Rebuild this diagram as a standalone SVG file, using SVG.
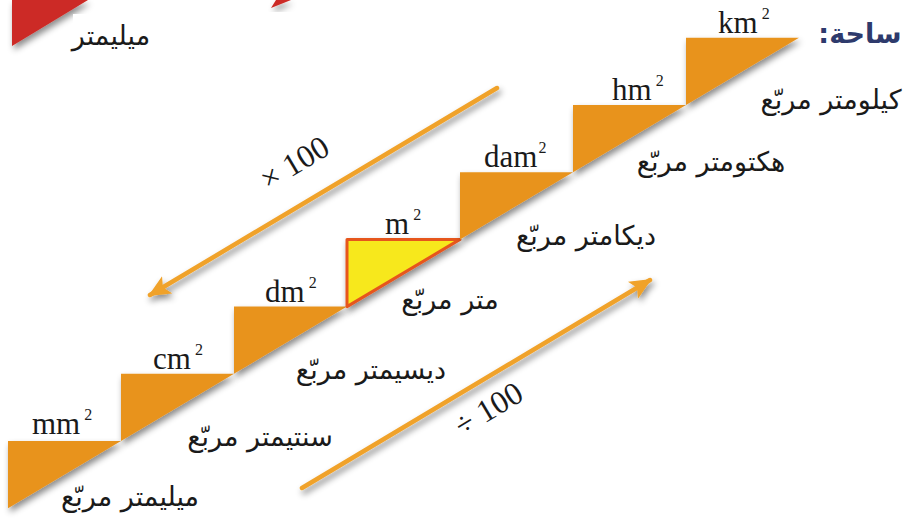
<svg xmlns="http://www.w3.org/2000/svg" width="903" height="519" viewBox="0 0 903 519">
<defs>
<filter id="sh" x="-20%" y="-20%" width="150%" height="160%">
<feDropShadow dx="2" dy="4" stdDeviation="3" flood-color="#000" flood-opacity="0.45"/>
</filter>
<marker id="ah" markerUnits="userSpaceOnUse" markerWidth="24" markerHeight="20" refX="20" refY="10" orient="auto">
<path d="M0,0 L22,10 L0,20 L5,10 Z" fill="#F0A22A"/>
</marker>
<style>
.step{fill:#E8931E;filter:url(#sh)}
.unit{font-family:"Liberation Serif",serif;font-size:31px;fill:#1a1a1a}
.sup{font-size:16px}
.ar{font-family:"DejaVu Sans",sans-serif;font-size:27px;fill:#1a1a1a;text-anchor:middle}
.arrow{stroke:#F0A22A;stroke-width:4.5;stroke-linecap:round;fill:none;filter:url(#sh)}
.op{font-family:"Liberation Serif",serif;font-size:32px;fill:#1a1a1a;text-anchor:middle}
</style>
</defs>
<rect width="903" height="519" fill="#fff"/>
<g id="corner">
<polygon points="12,0 12,46 88,0" fill="#CC2A25" filter="url(#sh)"/>
<polygon points="271,8 276,0 291,0" fill="#CC2A25" filter="url(#sh)"/>
<rect x="73" y="14" width="80" height="36" fill="#fff"/>
<text class="ar" x="111" y="45">ميليمتر</text>
</g>
<g id="title">
<text x="860" y="43" direction="rtl" font-family="DejaVu Sans,sans-serif" font-size="27" font-weight="bold" fill="#2E3A6C" text-anchor="middle">ساحة:</text>
</g>
<g id="mm2">
<polygon class="step" points="8,441 121,441 8,508.2"/>
<text class="unit" x="32" y="434">mm<tspan class="sup" dx="4" dy="-14">2</tspan></text>
<text class="ar" x="130" y="506">ميليمتر مربّع</text>
</g>
<g id="cm2">
<polygon class="step" points="121,373.8 234,373.8 121,441"/>
<text class="unit" x="153" y="369">cm<tspan class="sup" dx="4" dy="-14">2</tspan></text>
<text class="ar" x="260" y="446">سنتيمتر مربّع</text>
</g>
<g id="dm2">
<polygon class="step" points="234,306.6 347,306.6 234,373.8"/>
<text class="unit" x="265" y="302">dm<tspan class="sup" dx="4" dy="-14">2</tspan></text>
<text class="ar" x="371" y="379">ديسيمتر مربّع</text>
</g>
<g id="m2">
<polygon points="347,239.4 460,239.4 347,306.6" fill="#F7E81C" stroke="#E6561E" stroke-width="3" stroke-linejoin="round" filter="url(#sh)"/>
<text class="unit" x="385" y="234">m<tspan class="sup" dx="4" dy="-14">2</tspan></text>
<text class="ar" x="450" y="309">متر مربّع</text>
</g>
<g id="dam2">
<polygon class="step" points="460,172.2 573,172.2 460,239.4"/>
<text class="unit" x="484" y="167">dam<tspan class="sup" dx="1" dy="-14">2</tspan></text>
<text class="ar" x="586" y="245">ديكامتر مربّع</text>
</g>
<g id="hm2">
<polygon class="step" points="573,105 686,105 573,172.2"/>
<text class="unit" x="612" y="100">hm<tspan class="sup" dx="4" dy="-14">2</tspan></text>
<text class="ar" x="711" y="171">هكتومتر مربّع</text>
</g>
<g id="km2">
<polygon class="step" points="686,37.8 799,37.8 686,105"/>
<text class="unit" x="718" y="33">km<tspan class="sup" dx="4" dy="-14">2</tspan></text>
<text class="ar" x="831" y="109">كيلومتر مربّع</text>
</g>
<g id="connectors">
<line class="arrow" x1="497" y1="88" x2="150" y2="295" marker-end="url(#ah)"/>
<line class="arrow" x1="302" y1="488" x2="650" y2="280" marker-end="url(#ah)"/>
<text class="op" transform="translate(300,172) rotate(-31)">× 100</text>
<text class="op" transform="translate(494,418) rotate(-31)">÷ 100</text>
</g>
</svg>
